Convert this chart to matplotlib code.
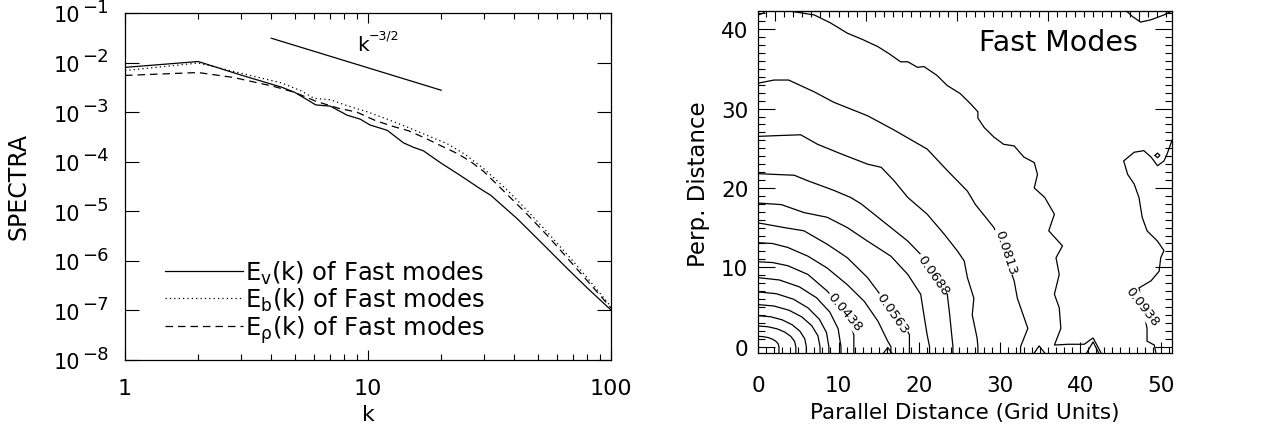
import numpy as np
import matplotlib
matplotlib.use("Agg")
import matplotlib.pyplot as plt
from matplotlib.ticker import FixedLocator, MultipleLocator, NullFormatter, NullLocator, LogLocator

plt.rcParams['font.family'] = ['DejaVu Sans']
plt.rcParams['mathtext.default'] = 'regular'

# ---- left panel: spectra ----
k_v = [1, 2, 3, 4.4, 5, 6.1, 7, 8.2, 9.3, 10.2, 12, 14, 15.4, 16.9, 19.9, 24.1, 29.1, 32, 41.1, 51.4, 66.3, 80.4, 100]
E_v = [8.0e-3, 1.05e-2, 5.6e-3, 3.2e-3, 2.5e-3, 1.40e-3, 1.32e-3, 8.7e-4, 7.2e-4, 5.5e-4, 4.3e-4, 2.4e-4,
       1.95e-4, 1.66e-4, 9.5e-5, 5.2e-5, 2.8e-5, 2.1e-5, 7.1e-6, 2.4e-6, 6.9e-7, 2.75e-7, 1.02e-7]

k_b = [1, 2, 3, 4.4, 5.3, 6.0, 7.0, 8.2, 9.9, 12, 14.5, 17.5, 21.2, 25, 30, 37.5, 45, 55, 70, 85, 100]
E_b = [6.9e-3, 9.8e-3, 6.1e-3, 3.9e-3, 2.7e-3, 1.9e-3, 1.78e-3, 1.35e-3, 1.02e-3, 7.2e-4, 5.0e-4, 3.4e-4,
       2.3e-4, 1.42e-4, 7.2e-5, 2.65e-5, 1.06e-5, 3.67e-6, 9.7e-7, 3.16e-7, 1.19e-7]

k_rho = [1, 2, 2.8, 4.1, 5.0, 6.1, 7.55, 9.0, 10.7, 12.6, 14.7, 17.3, 20.2, 23.4, 26.5, 30, 35, 45, 55, 70, 85, 100]
E_rho = [5.5e-3, 6.3e-3, 5.0e-3, 3.3e-3, 2.5e-3, 1.66e-3, 1.20e-3, 1.0e-3, 6.8e-4, 5.2e-4, 4.2e-4, 2.95e-4,
         2.04e-4, 1.45e-4, 1.0e-4, 6.3e-5, 3.0e-5, 8.9e-6, 3.16e-6, 8.3e-7, 2.8e-7, 1.12e-7]

ref_k = [4, 20]
ref_E = [3.1e-2, 2.77e-3]

# ---- right panel: contour lines ----
cont_x = [
    [0, 0.67, 1.3, 1.84, 2.25, 2.51, 2.6, 2.6],
    [0, 1.22, 2.35, 3.32, 4.07, 4.54, 4.7, 4.7],
    [0, 1.55, 3.0, 4.24, 5.2, 5.8, 6.0, 6.0],
    [0, 1.99, 3.85, 5.44, 6.67, 7.44, 7.7, 7.7],
    [0, 2.28, 4.4, 6.22, 7.62, 8.5, 8.8, 8.8],
    [0, 2.67, 5.15, 7.28, 8.92, 9.95, 10.3, 10.3],
    [0, 1.8, 3.7, 6.2, 8.6, 10.3, 11.4, 11.9, 11.9, 11.9],
    [0, 1.8, 3.7, 6.2, 8.6, 11.1, 13.2, 14.9, 16.1, 16.5, 16.5],
    [0, 3.3, 5.7, 8.6, 11.1, 13.6, 15.0, 16.8, 18.4, 18.8, 18.8],
    [0, 2.9, 5.7, 8.6, 11.1, 13.6, 16.5, 18.6, 20.2, 20.6, 21.0, 21.3, 21.3],
    [0, 4.5, 6.2, 9.4, 11.5, 12.8, 14.9, 18.6, 20.6, 21.7, 23.0, 23.5, 23.8, 24.0, 24.2, 24.2],
    [0, 2.5, 5.3, 7.4, 10.3, 13.6, 15.3, 16.9, 18.6, 21.0, 23.1, 24.8, 25.6, 26.0, 26.8, 26.6, 27.2, 27.3, 27.3],
    [0, 2.0, 3.8, 7.0, 9.4, 13.6, 16.9, 21.0, 23.5, 26.0, 27.0, 29.3, 30.2, 31.2, 31.8, 32.2, 33.5, 32.6, 32.6],
    [0, 0.6, 1.2],
    [2.4, 2.85, 4.5, 7.0, 9.0, 11.1, 13.0, 14.9, 16.3, 17.7, 18.6, 19.8, 20.6, 22.2, 23.5, 25.1, 26.4, 27.3,
     27.3, 28.1, 29.3, 30.5, 31.8, 33.0, 34.3, 34.7, 34.3, 35.6, 36.8, 36.1, 37.8, 37.0, 37.4, 36.8, 37.4,
     37.6, 36.8, 38.5, 40.5, 41.6, 42.6],
    [40.8, 41.6, 42.3],
    [34.3, 34.9, 35.6],
    [15.6, 16.1, 16.6],
    [45.4, 46.5, 47.5, 48.8, 50.4, 51.4],
    [51.4, 50.8, 50.4, 49.6, 48.8, 47.9, 46.7, 45.4, 45.9, 46.7, 47.3, 47.7, 48.3, 49.6, 50.4, 50.0, 49.8,
     48.8, 47.3, 48.3, 48.3, 49.2, 49.4],
    [49.3, 49.6, 49.9, 49.6, 49.3],
]
cont_y = [
    [1.3, 1.26, 1.13, 0.92, 0.65, 0.34, 0, -0.8],
    [2.6, 2.51, 2.25, 1.84, 1.3, 0.67, 0, -0.8],
    [3.9, 3.77, 3.38, 2.76, 1.95, 1.01, 0, -0.8],
    [5.3, 5.12, 4.59, 3.75, 2.65, 1.37, 0, -0.8],
    [6.9, 6.67, 5.98, 4.88, 3.45, 1.79, 0, -0.8],
    [8.7, 8.4, 7.53, 6.15, 4.35, 2.25, 0, -0.8],
    [10.7, 10.6, 10.2, 9.1, 7.0, 5.0, 3.0, 1.5, 0, -0.8],
    [13.1, 13.0, 12.5, 11.4, 9.9, 7.8, 5.7, 3.2, 0.7, 0, -0.8],
    [15.6, 15.0, 14.6, 12.9, 11.2, 8.7, 6.8, 4.5, 2.2, 1.5, -0.8],
    [18.1, 17.9, 16.9, 16.3, 15.0, 13.3, 11.4, 9.1, 6.6, 4.0, 1.5, 0, -0.8],
    [21.8, 21.6, 20.9, 19.7, 18.8, 18.0, 16.3, 13.3, 11.2, 9.3, 7.5, 6.6, 4.0, 2.0, 0, -0.8],
    [26.5, 26.6, 26.7, 25.5, 24.3, 23.0, 22.6, 20.9, 18.8, 16.7, 14.2, 12.0, 10.8, 8.7, 6.1, 4.0, 1.1, 0, -0.8],
    [33.2, 33.6, 33.6, 32.1, 30.8, 29.1, 27.3, 24.9, 22.2, 19.6, 17.9, 15.0, 12.5, 10.0, 8.3, 6.1, 2.3, 0, -0.8],
    [41.8, 42.0, 42.6],
    [42.6, 42.5, 42.2, 41.8, 40.8, 39.5, 38.7, 37.8, 36.9, 35.9, 35.9, 35.2, 35.3, 34.2, 32.9, 31.9, 30.6, 29.6,
     28.8, 27.6, 26.4, 25.5, 25.3, 23.9, 23.2, 21.7, 20.0, 18.8, 16.7, 14.6, 12.7, 11.2, 9.1, 6.6, 4.9,
     2.3, 0.2, 0.3, 0.3, 1.1, -0.8],
    [-0.8, 0.6, -0.8],
    [-0.8, 0.1, -0.8],
    [-0.8, -0.1, -0.8],
    [42.6, 41.6, 40.9, 41.2, 41.8, 42.3],
    [26.0, 24.3, 23.4, 22.8, 23.9, 24.7, 24.5, 23.4, 21.7, 20.5, 18.8, 16.3, 14.6, 13.3, 12.1, 11.2, 9.5,
     8.3, 7.4, 2.3, 0.7, 0.2, -0.8],
    [24.1, 24.4, 24.1, 23.8, 24.1],
]

label_text = ['0.0438', '0.0563', '0.0688', '0.0813', '0.0938']
label_x = [10.8, 16.7, 21.7, 30.8, 47.7]
label_y = [4.45, 4.2, 9.1, 12.0, 5.1]
label_rot = [-50, -55, -55, -72, -52]

# ---- figure ----
W, H = 1268, 435
fig = plt.figure(figsize=(W / 100, H / 100), dpi=100)
ax1 = fig.add_axes([125 / W, 1 - 361 / H, 486 / W, 347 / H])
ax2 = fig.add_axes([758 / W, 1 - 354 / H, 414 / W, 342 / H])
ink = 'black'

# left panel
ax1.set_xscale('log')
ax1.set_yscale('log')
l1, = ax1.plot(k_v, E_v, color='k', lw=0.9)
l2, = ax1.plot(k_b, E_b, color='k', lw=0.9, ls=(0, (1, 2.5)))
l3, = ax1.plot(k_rho, E_rho, color='k', lw=0.9, ls=(0, (6, 4)))
ax1.plot(ref_k, ref_E, color='k', lw=0.9)
ax1.set_xlim(1, 100)
ax1.set_ylim(1e-8, 1e-1)

ax1.xaxis.set_major_locator(FixedLocator([1, 10, 100]))
ax1.xaxis.set_minor_locator(LogLocator(base=10, subs=range(2, 10)))
ax1.set_xticklabels(['1', '10', '100'])
ax1.xaxis.set_minor_formatter(NullFormatter())
ax1.yaxis.set_major_locator(FixedLocator(10.0 ** np.arange(-8, 0)))
ax1.yaxis.set_minor_locator(NullLocator())
ax1.yaxis.set_major_formatter(NullFormatter())
ax1.tick_params(which='both', direction='in', top=True, right=True, colors=ink, width=0.8)
ax1.tick_params(axis='y', which='major', length=10)
ax1.tick_params(axis='x', which='major', length=7, pad=13, labelsize=16)
ax1.tick_params(axis='x', which='minor', length=4)

for e in range(-8, 0):
    ax1.annotate('10', xy=(0, 10.0 ** e), xycoords=('axes fraction', 'data'),
                 xytext=(-45 * 0.72, -8.5 * 0.72), textcoords='offset points',
                 ha='right', va='baseline', fontsize=15, color=ink)
    ax1.annotate('\u2212%d' % -e, xy=(0, 10.0 ** e), xycoords=('axes fraction', 'data'),
                 xytext=(-43 * 0.72, 1.3 * 0.72), textcoords='offset points',
                 ha='left', va='baseline', fontsize=13, color=ink)

ax1.text(9.05, 0.0179, 'k', fontsize=14.5, color=ink, ha='left', va='baseline')
ax1.text(10.1, 0.0299, '\u22123/2', fontsize=9, color=ink, ha='left', va='baseline')

leg = ax1.legend([l1, l2, l3],
                 ['E$_{v}$(k) of Fast modes', 'E$_{b}$(k) of Fast modes', r'E$_{\rho}$(k) of Fast modes'],
                 loc='upper left', bbox_to_anchor=(0.082, 0.292), frameon=False, fontsize=17.5,
                 handlelength=3.2, handletextpad=0.1, labelspacing=0.0, borderpad=0, borderaxespad=0)
for t in leg.get_texts():
    t.set_color(ink)

fig.text(19 / W, 1 - 187 / H, 'SPECTRA', rotation=90, ha='center', va='center', fontsize=17, color=ink)
fig.text(368 / W, 1 - 415 / H, 'k', ha='center', va='center', fontsize=16, color=ink)

# right panel
for xs, ys in zip(cont_x, cont_y):
    ax2.plot(xs, ys, color='k', lw=0.9, solid_joinstyle='miter')
for s, x, y, r in zip(label_text, label_x, label_y, label_rot):
    ax2.text(x, y, s, rotation=r, ha='center', va='center', fontsize=9.5, color=ink,
             rotation_mode='anchor',
             bbox=dict(boxstyle='square,pad=0.05', fc='white', ec='none'))
ax2.set_xlim(0, 51.4)
ax2.set_ylim(-0.8, 42.3)
ax2.xaxis.set_major_locator(MultipleLocator(10))
ax2.xaxis.set_minor_locator(MultipleLocator(1))
ax2.yaxis.set_major_locator(MultipleLocator(10))
ax2.yaxis.set_minor_locator(MultipleLocator(1))
ax2.tick_params(which='both', direction='in', right=True, top=False, colors=ink, width=0.8, labelsize=15.5)
ax2.tick_params(axis='y', which='major', length=12, pad=7)
ax2.tick_params(axis='y', which='minor', length=5)
ax2.tick_params(axis='x', which='major', length=8, pad=16)
ax2.tick_params(axis='x', which='minor', length=4)

top = ax2.secondary_xaxis('top', functions=(lambda x: (x - 2.1) / 1.129, lambda t: t * 1.129 + 2.1))
top.xaxis.set_major_locator(MultipleLocator(10))
top.xaxis.set_minor_locator(MultipleLocator(1))
top.xaxis.set_major_formatter(NullFormatter())
top.tick_params(which='both', direction='in', colors=ink, width=0.8)
top.tick_params(which='major', length=7)
top.tick_params(which='minor', length=4)

ax2.text(0.918, 0.909, 'Fast Modes', transform=ax2.transAxes, ha='right', va='center',
         fontsize=20.5, color=ink)
fig.text(698 / W, 1 - 184 / H, 'Perp. Distance', rotation=90, ha='center', va='center', fontsize=16.5, color=ink)
fig.text(965 / W, 1 - 413 / H, 'Parallel Distance (Grid Units)', ha='center', va='center', fontsize=15.5, color=ink)

for ax in (ax1, ax2):
    for sp in ax.spines.values():
        sp.set_color(ink)
        sp.set_linewidth(0.9)

fig.savefig('out.png', dpi=100)
